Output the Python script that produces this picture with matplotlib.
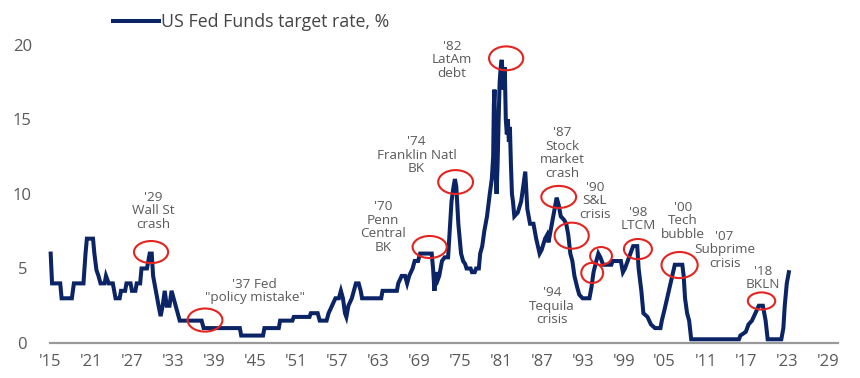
import matplotlib
matplotlib.use("Agg")
import matplotlib.pyplot as plt
from matplotlib.patches import Ellipse

# --- Data (year, Fed funds target rate %) ---
years = [1915.1, 1915.3, 1916.5, 1916.7, 1918.2, 1918.5, 1919.9, 1920.2, 1920.4, 1921.3,
         1921.5, 1921.8, 1922.1, 1922.4, 1923.0, 1923.2, 1923.6, 1924.2, 1924.4, 1924.6,
         1925.2, 1925.4, 1926.0, 1926.2, 1926.8, 1927.0, 1927.5, 1927.7, 1928.2, 1928.4,
         1929.2, 1929.6, 1929.9, 1930.1, 1930.5, 1930.9, 1931.2, 1931.5, 1931.8, 1932.1,
         1932.5, 1932.8, 1933.1, 1933.4, 1933.7, 1934.0, 1937.2, 1937.5, 1942.8, 1943.0,
         1946.2, 1946.4, 1948.5, 1948.7, 1950.5, 1950.7, 1953.0, 1953.2, 1954.2, 1954.5,
         1955.5, 1955.8, 1956.3, 1956.8, 1957.3, 1957.6, 1957.9, 1958.2, 1958.4, 1958.7,
         1959.2, 1959.5, 1959.8, 1960.2, 1960.5, 1960.7, 1963.5, 1963.7, 1965.8, 1966.0,
         1966.5, 1967.0, 1967.3, 1967.6, 1968.1, 1968.4, 1968.9, 1969.2, 1970.9, 1971.1,
         1971.3, 1971.5, 1971.8, 1972.0, 1972.4, 1972.8, 1973.3, 1973.6, 1973.8, 1974.1,
         1974.3, 1974.5, 1974.8, 1975.2, 1975.5, 1975.8, 1976.0, 1976.6, 1976.8, 1977.2,
         1977.4, 1977.8, 1978.0, 1978.3, 1978.6, 1979.0, 1979.4, 1979.7, 1979.9, 1980.0,
         1980.1, 1980.25, 1980.4, 1980.55, 1980.7, 1980.85, 1981.0, 1981.15, 1981.3, 1981.45,
         1981.6, 1981.75, 1981.9, 1982.05, 1982.2, 1982.35, 1982.5, 1982.65, 1982.8, 1983.0,
         1983.5, 1984.0, 1984.3, 1984.6, 1984.9, 1985.3, 1985.8, 1986.2, 1986.7, 1987.0,
         1987.5, 1987.8, 1988.0, 1988.3, 1988.7, 1989.2, 1989.5, 1989.8, 1990.3, 1990.6,
         1990.9, 1991.2, 1991.5, 1991.8, 1992.2, 1992.5, 1993.0, 1994.0, 1994.3, 1994.6,
         1995.0, 1995.3, 1995.6, 1996.0, 1997.2, 1997.4, 1998.6, 1998.9, 1999.2, 1999.6,
         2000.0, 2000.4, 2001.0, 2001.2, 2001.6, 2001.9, 2002.5, 2003.0, 2003.6, 2004.4,
         2004.6, 2005.0, 2005.5, 2006.0, 2006.5, 2007.6, 2007.8, 2008.0, 2008.3, 2008.6,
         2008.9, 2015.9, 2016.1, 2016.9, 2017.3, 2017.8, 2018.3, 2018.8, 2019.4, 2019.6,
         2019.8, 2020.1, 2022.1, 2022.4, 2022.6, 2022.9, 2023.2]
rates = [6.0, 4.0, 4.0, 3.0, 3.0, 4.0, 4.0, 6.0, 7.0, 7.0,
         6.0, 4.9, 4.5, 4.0, 4.0, 4.5, 4.0, 4.0, 3.5, 3.0,
         3.0, 3.5, 3.5, 4.0, 4.0, 3.5, 3.5, 4.0, 4.0, 5.0,
         5.0, 6.0, 6.0, 4.5, 3.5, 2.5, 1.8, 2.5, 3.5, 2.5,
         2.5, 3.5, 3.0, 2.5, 2.0, 1.5, 1.5, 1.0, 1.0, 0.5,
         0.5, 1.0, 1.0, 1.5, 1.5, 1.75, 1.75, 2.0, 2.0, 1.5,
         1.5, 2.0, 2.5, 3.0, 3.0, 3.5, 3.0, 2.0, 1.75, 2.5,
         3.0, 3.5, 4.0, 4.0, 3.5, 3.0, 3.0, 3.5, 3.5, 4.0,
         4.5, 4.5, 4.0, 4.5, 5.0, 5.5, 5.5, 6.0, 6.0, 5.0,
         3.5, 4.75, 4.25, 4.5, 5.5, 5.75, 5.75, 8.0, 9.5, 10.5,
         11.0, 10.5, 8.0, 6.0, 5.5, 5.3, 5.0, 5.0, 4.75, 4.75,
         5.0, 5.0, 6.0, 6.5, 7.5, 8.5, 10.0, 11.0, 12.5, 16.0,
         17.0, 11.5, 10.0, 12.0, 15.0, 17.5, 18.5, 19.0, 18.0, 17.0,
         18.5, 15.0, 14.0, 15.0, 13.5, 14.5, 12.0, 10.0, 9.5, 8.5,
         8.75, 9.5, 10.5, 11.5, 9.0, 8.0, 8.0, 7.0, 6.0, 6.25,
         7.0, 7.25, 6.75, 7.5, 8.5, 9.75, 9.25, 8.5, 8.25, 8.0,
         7.25, 6.0, 5.5, 4.5, 3.75, 3.25, 3.0, 3.0, 3.75, 4.75,
         5.5, 6.0, 5.75, 5.25, 5.25, 5.5, 5.5, 4.75, 5.0, 5.5,
         6.0, 6.5, 6.5, 5.0, 3.5, 2.0, 1.75, 1.25, 1.0, 1.0,
         1.5, 2.25, 3.25, 4.25, 5.25, 5.25, 4.5, 3.0, 2.0, 1.5,
         0.25, 0.25, 0.5, 0.75, 1.25, 1.5, 2.0, 2.5, 2.5, 2.0,
         1.5, 0.25, 0.25, 1.0, 2.5, 4.0, 4.75]

xtick_years = list(range(1915, 2030, 6))
xtick_labels = ["'%02d" % (y % 100) for y in xtick_years]
yticks = [0, 5, 10, 15, 20]

# annotation text, text centre (year, rate)
labels = ["'29\nWall St\ncrash", "'37 Fed\n\"policy mistake\"", "'70\nPenn\nCentral\nBK",
          "'74\nFranklin Natl\nBK", "'82\nLatAm\ndebt", "'87\nStock\nmarket\ncrash",
          "'90\nS&L\ncrisis", "'94\nTequila\ncrisis", "'98\nLTCM", "'00\nTech\nbubble",
          "'07\nSubprime\ncrisis", "'18\nBKLN"]
label_x = [1930.1, 1945.0, 1963.75, 1968.7, 1973.9, 1990.0, 1994.8, 1988.5, 2001.1, 2007.7, 2013.8, 2019.4]
label_y = [8.86, 3.49, 7.79, 12.6, 19.0, 12.75, 9.53, 2.48, 8.32, 8.19, 6.24, 4.36]

# red circles: centre (year, rate), width (years), height (rate)
circ_x = [1929.8, 1937.7, 1970.6, 1974.4, 1981.8, 1989.5, 1991.4, 1994.4, 1995.7, 2001.1, 2007.2, 2019.2]
circ_y = [6.1, 1.54, 6.44, 10.8, 19.1, 9.8, 7.2, 4.7, 5.84, 6.3, 5.23, 2.82]
circ_w = [5.0, 5.1, 5.0, 5.1, 5.0, 5.1, 5.0, 3.2, 3.2, 4.1, 5.3, 4.0]
circ_h = [1.48, 1.55, 1.48, 1.6, 1.6, 1.48, 1.75, 1.35, 1.2, 1.35, 1.75, 1.15]

NAVY = "#0b2465"
RED = "#e3241f"
GREY = "#5a5a5a"

plt.rcParams["font.family"] = ["Open Sans", "DejaVu Sans"]

fig = plt.figure(figsize=(8.6, 3.78), dpi=100)
ax = fig.add_axes([50 / 860, 35 / 378, 788 / 860, 313 / 378])

ax.plot(years, rates, color=NAVY, lw=2.9, solid_joinstyle="miter",
        label="US Fed Funds target rate, %", clip_on=False, zorder=3)

for cx, cy, w, h in zip(circ_x, circ_y, circ_w, circ_h):
    ax.add_patch(Ellipse((cx, cy), w, h, fill=False, ec=RED, lw=1.5, zorder=4))

for txt, tx, ty in zip(labels, label_x, label_y):
    ax.text(tx, ty, txt, ha="center", va="center", fontsize=9.7, color=GREY,
            linespacing=1.05, zorder=5)

ax.set_xlim(1915, 2030.4)
ax.set_ylim(0, 21)
ax.set_xticks(xtick_years)
ax.set_xticklabels(xtick_labels)
ax.set_yticks(yticks)
ax.tick_params(axis="both", length=0, labelsize=12, colors=GREY)
ax.tick_params(axis="x", pad=8)
ax.tick_params(axis="y", pad=20)
for lab in ax.get_yticklabels():
    lab.set_horizontalalignment("center")

for side in ["top", "right", "left"]:
    ax.spines[side].set_visible(False)
ax.spines["bottom"].set_color("#999999")
ax.spines["bottom"].set_linewidth(1.6)

leg = ax.legend(loc="upper left", bbox_to_anchor=(63 / 788, 1.055), frameon=False,
                fontsize=12.8, handlelength=2.6, handletextpad=0.1, borderaxespad=0,
                borderpad=0)
for t in leg.get_texts():
    t.set_color("#444444")

fig.savefig("out.png", dpi=100)
